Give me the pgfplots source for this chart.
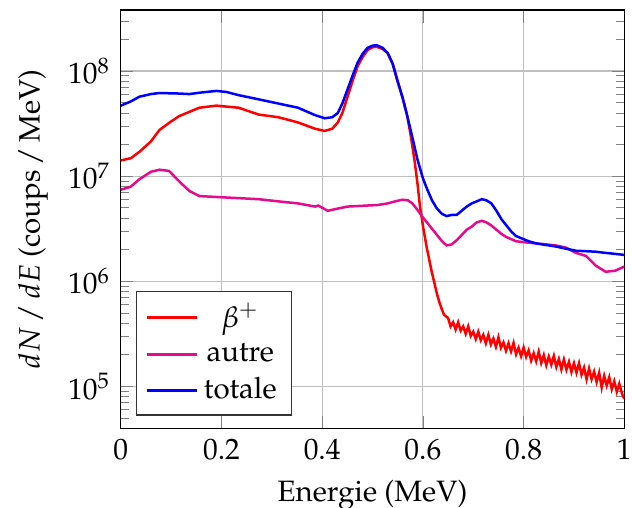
\documentclass[border=0pt]{standalone}
\usepackage[T1]{fontenc}
\usepackage{mathpazo}
\usepackage{pgfplots}
\pgfplotsset{compat=1.18}
\definecolor{autrecol}{RGB}{230,10,140}
\begin{document}
\begin{tikzpicture}
\begin{axis}[
  scale only axis,
  width=171pt, height=142pt,
  ymode=log,
  xmin=0, xmax=1,
  ymin=4e4, ymax=3.8e8,
  xtick={0,0.2,0.4,0.6,0.8,1},
  xticklabels={0,0.2,0.4,0.6,0.8,1},
  grid=major,
  major grid style={thin, black!25},
  xlabel={Energie (MeV)},
  ylabel={$dN\,/\,dE$ (coups\,/\,MeV)},
  legend style={at={(0.03,0.03)}, anchor=south west, draw=black!80, font=\normalsize},
  legend cell align=center,
  every axis plot/.append style={line width=0.85pt},
]
\addplot[red] coordinates {
(0,1.41e7)(0.02,1.48e7)(0.037,1.70e7)(0.06,2.14e7)(0.077,2.75e7)(0.10,3.31e7)
(0.116,3.72e7)(0.156,4.47e7)(0.19,4.68e7)(0.234,4.47e7)(0.274,3.85e7)(0.313,3.63e7)
(0.352,3.24e7)(0.386,2.82e7)(0.405,2.69e7)(0.42,2.82e7)(0.431,3.24e7)(0.44,3.98e7)
(0.45,5.62e7)(0.46,7.94e7)(0.47,1.10e8)(0.48,1.35e8)(0.49,1.58e8)(0.50,1.68e8)
(0.508,1.70e8)(0.52,1.62e8)(0.53,1.48e8)(0.54,1.17e8)(0.549,8.22e7)(0.56,5.50e7)
(0.569,3.72e7)(0.576,2.40e7)(0.583,1.45e7)(0.589,8.7e6)(0.594,5.25e6)(0.601,3.16e6)
(0.608,2.04e6)(0.612,1.66e6)(0.617,1.26e6)(0.622,1.0e6)(0.627,7.9e5)(0.632,6.46e5)
(0.637,5.5e5)(0.642,4.8e5)
(0.650,4.47e5)(0.655,3.72e5)(0.660,4.07e5)(0.665,3.47e5)(0.670,4.07e5)(0.675,3.39e5)
(0.680,3.72e5)(0.685,3.16e5)(0.690,3.72e5)(0.695,3.02e5)(0.700,3.31e5)(0.705,2.82e5)
(0.710,3.31e5)(0.715,2.75e5)(0.720,3.09e5)(0.725,2.57e5)(0.730,3.09e5)(0.735,2.51e5)
(0.740,2.85e5)(0.745,2.38e5)(0.750,2.93e5)(0.755,2.33e5)(0.760,2.62e5)(0.765,2.18e5)
(0.770,2.57e5)(0.775,2.15e5)(0.780,2.59e5)(0.785,2.02e5)(0.790,2.33e5)(0.795,1.94e5)
(0.800,2.34e5)(0.805,1.91e5)(0.810,2.20e5)(0.815,1.76e5)(0.820,2.07e5)(0.825,1.73e5)
(0.830,2.14e5)(0.835,1.67e5)(0.840,1.98e5)(0.845,1.59e5)(0.850,1.92e5)(0.855,1.61e5)
(0.860,1.95e5)(0.865,1.53e5)(0.870,1.82e5)(0.875,1.45e5)(0.880,1.80e5)(0.885,1.44e5)
(0.890,1.71e5)(0.895,1.37e5)(0.900,1.66e5)(0.905,1.35e5)(0.910,1.66e5)(0.915,1.29e5)
(0.920,1.51e5)(0.925,1.17e5)(0.930,1.48e5)(0.935,1.17e5)(0.940,1.38e5)(0.945,1.10e5)
(0.950,1.35e5)(0.955,9.77e4)(0.960,1.26e5)(0.965,1.02e5)(0.970,1.22e5)(0.975,9.4e4)
(0.980,1.12e5)(0.985,8.9e4)(0.990,1.06e5)(0.995,8.6e4)(1.000,7.6e4)
};
\addlegendentry{$\beta^+$}
\addplot[autrecol] coordinates {
(0,7.41e6)(0.02,7.94e6)(0.037,9.33e6)(0.06,1.10e7)(0.077,1.15e7)(0.096,1.12e7)
(0.116,8.91e6)(0.136,7.24e6)(0.156,6.46e6)(0.195,6.31e6)(0.235,6.17e6)(0.274,6.03e6)
(0.313,5.75e6)(0.352,5.5e6)(0.386,5.13e6)(0.392,5.25e6)(0.411,4.68e6)(0.43,4.9e6)
(0.45,5.13e6)(0.47,5.19e6)(0.49,5.25e6)(0.51,5.31e6)(0.53,5.5e6)(0.545,5.75e6)
(0.559,5.96e6)(0.57,5.89e6)(0.579,5.5e6)(0.589,4.79e6)(0.598,4.17e6)(0.608,3.63e6)
(0.618,3.16e6)(0.628,2.75e6)(0.638,2.4e6)(0.647,2.19e6)(0.657,2.24e6)(0.667,2.45e6)
(0.677,2.75e6)(0.687,3.09e6)(0.697,3.31e6)(0.707,3.63e6)(0.717,3.76e6)(0.726,3.63e6)
(0.736,3.39e6)(0.746,3.09e6)(0.756,2.82e6)(0.766,2.63e6)(0.785,2.4e6)(0.805,2.34e6)
(0.825,2.29e6)(0.845,2.24e6)(0.864,2.19e6)(0.884,2.09e6)(0.904,1.86e6)(0.924,1.74e6)
(0.943,1.41e6)(0.963,1.23e6)(0.982,1.26e6)(1.0,1.38e6)
};
\addlegendentry{autre}
\addplot[blue] coordinates {
(0,4.68e7)(0.02,5.13e7)(0.037,5.69e7)(0.06,6.03e7)(0.077,6.17e7)(0.116,6.1e7)
(0.136,6.03e7)(0.16,6.24e7)(0.19,6.46e7)(0.21,6.31e7)(0.234,5.89e7)(0.274,5.37e7)
(0.313,4.9e7)(0.352,4.47e7)(0.386,3.8e7)(0.405,3.55e7)(0.42,3.63e7)(0.431,3.98e7)
(0.44,4.9e7)(0.45,6.61e7)(0.46,8.91e7)(0.47,1.19e8)(0.48,1.45e8)(0.49,1.66e8)
(0.50,1.74e8)(0.508,1.76e8)(0.52,1.66e8)(0.53,1.48e8)(0.54,1.17e8)(0.549,8.22e7)
(0.56,5.5e7)(0.569,3.72e7)(0.58,2.24e7)(0.589,1.45e7)(0.60,9.55e6)(0.608,7.59e6)
(0.618,5.89e6)(0.628,4.9e6)(0.638,4.37e6)(0.647,4.17e6)(0.657,4.27e6)(0.667,4.27e6)
(0.677,4.68e6)(0.687,5.13e6)(0.697,5.5e6)(0.707,5.75e6)(0.717,6.03e6)(0.726,5.89e6)
(0.736,5.5e6)(0.746,4.68e6)(0.756,3.89e6)(0.766,3.39e6)(0.776,2.95e6)(0.785,2.69e6)
(0.795,2.57e6)(0.81,2.4e6)(0.825,2.29e6)(0.845,2.21e6)(0.864,2.14e6)(0.884,2.04e6)
(0.904,1.95e6)(0.924,1.93e6)(0.943,1.91e6)(0.963,1.86e6)(0.982,1.82e6)(1.0,1.78e6)
};
\addlegendentry{totale}
\end{axis}
\pgfresetboundingbox
\path ([xshift=-41pt,yshift=-27pt]current axis.south west) rectangle ([xshift=2.6pt,yshift=3.4pt]current axis.north east);
\end{tikzpicture}
\end{document}
